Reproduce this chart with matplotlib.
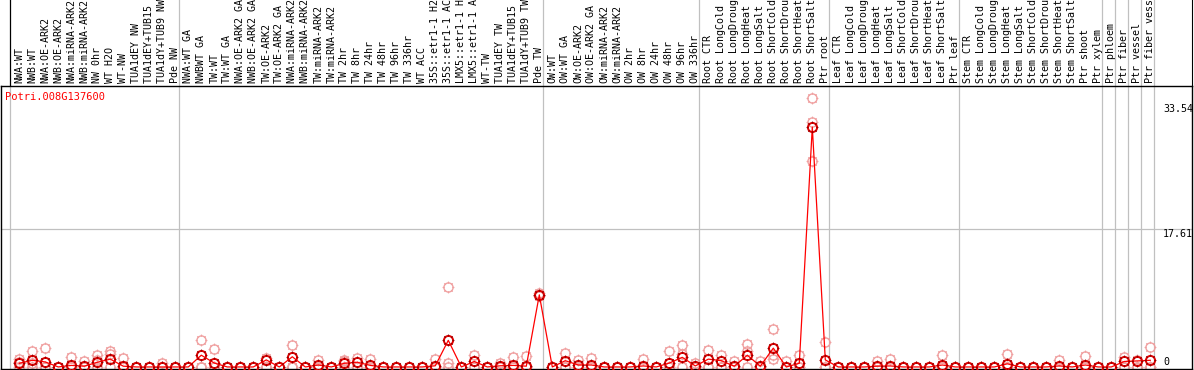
import numpy as np
import matplotlib.pyplot as plt
from matplotlib.path import Path

title = "Potri.008G137600"

samples = [
    # NW group
    "NWA:WT", "NWB:WT", "NWA:OE-ARK2", "NWB:OE-ARK2", "NWA:miRNA-ARK2", "NWB:miRNA-ARK2",
    "NW 0hr", "WT H2O", "WT-NW", "TUA1dEY NW", "TUA1dEY+TUB15 NW", "TUA1dY+TUB9 NW", "Pde NW",
    # TW group
    "NWA:WT GA", "NWBWT GA", "TW:WT", "TW:WT GA", "NWA:OE-ARK2 GA", "NWB:OE-ARK2 GA",
    "TW:OE-ARK2", "TW:OE-ARK2 GA", "NWA:miRNA-ARK2 GA", "NWB:miRNA-ARK2 GA", "TW:miRNA-ARK2",
    "TW:miRNA-ARK2", "TW 2hr", "TW 8hr", "TW 24hr", "TW 48hr", "TW 96hr", "TW 336hr", "WT ACC",
    "35S::etr1-1 H2O", "35S::etr1-1 ACC", "LMX5::etr1-1 H2O", "LMX5::etr1-1 ACC", "WT-TW",
    "TUA1dEY TW", "TUA1dEY+TUB15 TW", "TUA1dY+TUB9 TW", "Pde TW",
    # OW group
    "OW:WT", "OW:WT GA", "OW:OE-ARK2", "OW:OE-ARK2 GA", "OW:miRNA-ARK2", "OW:miRNA-ARK2",
    "OW 2hr", "OW 8hr", "OW 24hr", "OW 48hr", "OW 96hr", "OW 336hr",
    # root
    "Root CTR", "Root LongCold", "Root LongDrought", "Root LongHeat", "Root LongSalt",
    "Root ShortCold", "Root ShortDrought", "Root ShortHeat", "Root ShortSalt", "Ptr root",
    # leaf
    "Leaf CTR", "Leaf LongCold", "Leaf LongDrought", "Leaf LongHeat", "Leaf LongSalt",
    "Leaf ShortCold", "Leaf ShortDrought", "Leaf ShortHeat", "Leaf ShortSalt", "Ptr leaf",
    # stem
    "Stem CTR", "Stem LongCold", "Stem LongDrought", "Stem LongHeat", "Stem LongSalt",
    "Stem ShortCold", "Stem ShortDrought", "Stem ShortHeat", "Stem ShortSalt", "Ptr shoot",
    "Ptr xylem",
    "Ptr phloem", "Ptr fiber", "Ptr vessel", "Ptr fiber vessel",
]

# index where each sample group starts (plus the end)
group_bounds = [0, 13, 41, 53, 63, 73, 84, 85, 86, 87, 88]

mean_vals = [
    0.47, 0.85, 0.64, 0, 0.2, 0.1, 0.6, 1.0, 0.1, 0, 0, 0, 0,
    0, 1.5, 0.5, 0, 0, 0, 0.9, 0, 1.3, 0, 0.25, 0, 0.47, 0.6, 0.2, 0, 0, 0, 0, 0.15,
    3.4, 0, 0.7, 0, 0.15, 0.2, 0.1, 9.2,
    0, 0.8, 0.25, 0.25, 0, 0, 0, 0.13, 0, 0.5, 1.23, 0.13,
    1.0, 0.8, 0.1, 1.5, 0.1, 2.4, 0, 0.47, 30.6, 0.9,
    0, 0, 0, 0.1, 0.13, 0, 0, 0, 0.25, 0,
    0, 0, 0, 0.4, 0, 0, 0, 0.13, 0, 0.25, 0,
    0, 0.7, 0.77, 0.85,
]

rep_a = [
    1.0, 2.0, 2.4, 0, 1.3, 0.7, 1.53, 2.0, 1.1, 0, 0, 0.55, 0,
    0, 3.4, 2.3, 0, 0, 0, 1.1, 0, 2.8, 0, 0.9, 0, 0.9, 1.2, 1.0, 0, 0, 0, 0, 1.0,
    10.2, 0, 1.5, 0, 0.55, 1.3, 1.4, 9.4,
    0, 1.8, 0.9, 1.1, 0, 0, 0, 1.0, 0, 2.04, 2.8, 0.55,
    2.17, 1.55, 0.8, 2.9, 0.7, 4.8, 0.8, 1.55, 34.3, 3.15,
    0, 0, 0, 0.7, 1.0, 0, 0, 0, 1.53, 0,
    0, 0, 0, 1.66, 0, 0, 0, 0.9, 0, 1.4, 0,
    0, 1.3, 0.9, 2.5,
]

rep_b = [
    0.6, 0.55, 0, 0, 0, 0, 0.9, 1.7, 0, 0, 0, 0, 0,
    0, 0, 0, 0, 0, 0, 0, 0, 0, 0, 0, 0, 0.7, 0, 0, 0, 0, 0, 0, 0,
    0.5, 0, 0, 0, 0, 0, 0, 9.0,
    0, 0, 0, 0, 0, 0, 0, 0, 0, 0, 1.66, 0,
    0, 0, 0, 2.0, 0, 1.55, 0, 0, 31.2, 0,
    0, 0, 0, 0, 0, 0, 0, 0, 0, 0,
    0, 0, 0, 0, 0, 0, 0, 0, 0, 0, 0,
    0, 0, 0, 0,
]

rep_c = [0] * 88
rep_c[40] = 9.2
rep_c[58] = 1.0
rep_c[61] = 26.3

y_ticks = [0, 17.61, 33.54]

W, H = 1194, 370
fig = plt.figure(figsize=(W / 100, H / 100), dpi=100)

def fx(px):
    return px / W

def fy(py):
    return 1 - py / H

# little spikes round the circles, like the old gif renderer
verts, codes = [], []
for a in np.arange(8) * np.pi / 4:
    c, s = np.cos(a), np.sin(a)
    verts += [(0.8 * c, 0.8 * s), (1.25 * c, 1.25 * s)]
    codes += [Path.MOVETO, Path.LINETO]
spikes = Path(verts, codes)

x = np.arange(len(samples))
x_lo = (1 - 19.3) / 13
x_hi = (1192 - 19.3) / 13
y_lo, y_hi = -0.26, 35.85
sep = [b - 0.715 for b in group_bounds]
grey = "#c0c0c0"
mono = "DejaVu Sans Mono"

# label strip
ax_lab = fig.add_axes([fx(1), fy(86), fx(1191), fy(0) - fy(86)])
ax_lab.set_xlim(x_lo, x_hi)
ax_lab.set_ylim(0, 1)
ax_lab.set_xticks([])
ax_lab.set_yticks([])
for s in ["left", "top", "bottom"]:
    ax_lab.spines[s].set_visible(False)
for i, s in enumerate(sep):
    ax_lab.axvline(s, color="black" if i == 0 else grey, lw=0.9)
for i, lab in enumerate(samples):
    ax_lab.text(i, 0.035, lab, rotation=90, ha="center", va="bottom",
                fontfamily=mono, fontsize=7.2, clip_on=True)

# main plot
ax = fig.add_axes([fx(1), fy(369), fx(1191), fy(86) - fy(369)])
ax.set_xlim(x_lo, x_hi)
ax.set_ylim(y_lo, y_hi)
ax.set_xticks([])
ax.set_yticks([])
for s in ax.spines.values():
    s.set_color("black")
    s.set_linewidth(1.0)
for s in sep:
    ax.axvline(s, color=grey, lw=0.9, zorder=1)
ax.axhline(y_ticks[1], color=grey, lw=0.9, zorder=1)

pink = "#f0a0a0"
for reps in (rep_c, rep_b, rep_a):
    ax.plot(x, reps, ls="none", marker="o", ms=6.6, mfc="none", mec=pink, mew=1.0, zorder=2)
    ax.plot(x, reps, ls="none", marker=spikes, ms=8.5, mec=pink, mew=0.8, zorder=2)

ax.plot(x, mean_vals, color="#ff0000", lw=0.9, marker="o", ms=6.6, mfc="none",
        mec="#e00000", mew=1.4, zorder=3)
ax.plot(x, mean_vals, ls="none", marker=spikes, ms=8.5, mec="#900000", mew=0.8, zorder=3)

ax.text(-1.1, 34.4, title, color="red", fontfamily=mono, fontsize=7.5,
        ha="left", va="center")

x_tick_lab = (1163 - 19.3) / 13
for v in y_ticks:
    ax.text(x_tick_lab, v, f"{v:g}", fontfamily=mono, fontsize=7.2, ha="left",
            va="bottom" if v == 0 else "top")

fig.savefig("out.png", dpi=100)
